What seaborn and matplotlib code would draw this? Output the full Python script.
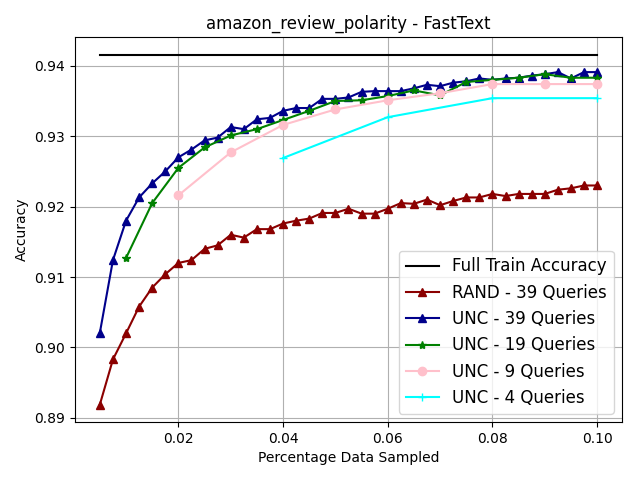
import numpy as np
import pandas as pd
import matplotlib
matplotlib.use("Agg")
import matplotlib.pyplot as plt
import seaborn as sns

# x grids for each query budget
x_39 = [round(0.005 + 0.0025 * i, 4) for i in range(39)]
x_19 = [round(0.01 + 0.005 * i, 4) for i in range(19)]
x_9 = [0.02, 0.03, 0.04, 0.05, 0.06, 0.07, 0.08, 0.09, 0.10]
x_4 = [0.04, 0.06, 0.08, 0.10]

full_train_acc = 0.9416

rand_39 = [0.8919, 0.8983, 0.9020, 0.9058, 0.9085, 0.9104, 0.9120, 0.9124,
           0.9140, 0.9145, 0.9160, 0.9156, 0.9168, 0.9168, 0.9176, 0.9180,
           0.9183, 0.9191, 0.9191, 0.9197, 0.9190, 0.9190, 0.9197, 0.9205,
           0.9204, 0.9210, 0.9202, 0.9208, 0.9213, 0.9213, 0.9218, 0.9215,
           0.9218, 0.9218, 0.9218, 0.9224, 0.9226, 0.9230, 0.9230]

unc_39 = [0.9021, 0.9124, 0.9180, 0.9213, 0.9233, 0.9250, 0.9270, 0.9281,
          0.9294, 0.9298, 0.9313, 0.9310, 0.9324, 0.9326, 0.9336, 0.9340,
          0.9340, 0.9353, 0.9353, 0.9355, 0.9363, 0.9364, 0.9364, 0.9364,
          0.9368, 0.9373, 0.9371, 0.9376, 0.9378, 0.9382, 0.9380, 0.9382,
          0.9383, 0.9386, 0.9388, 0.9391, 0.9382, 0.9391, 0.9391]

unc_19 = [0.9127, 0.9205, 0.9255, 0.9284, 0.9301, 0.9310, 0.9323, 0.9336,
          0.9350, 0.9351, 0.9357, 0.9365, 0.9358, 0.9377, 0.9380, 0.9383,
          0.9388, 0.9383, 0.9383]

unc_9 = [0.9216, 0.9277, 0.9316, 0.9338, 0.9351, 0.9361, 0.9374, 0.9374, 0.9374]

unc_4 = [0.9269, 0.9327, 0.9354, 0.9354]

fig, ax = plt.subplots(figsize=(6.4, 4.8), dpi=100)

sns.lineplot(x=[x_39[0], x_39[-1]], y=[full_train_acc, full_train_acc],
             color="black", label="Full Train Accuracy", ax=ax)

series = [
    (x_39, rand_39, "darkred", "^", "RAND - 39 Queries"),
    (x_39, unc_39, "darkblue", "^", "UNC - 39 Queries"),
    (x_19, unc_19, "green", "*", "UNC - 19 Queries"),
    (x_9, unc_9, "pink", "o", "UNC - 9 Queries"),
    (x_4, unc_4, "cyan", "+", "UNC - 4 Queries"),
]
for xs, ys, col, mk, lab in series:
    sns.lineplot(x=xs, y=ys, color=col, marker=mk, markersize=6,
                 markeredgecolor=col, markerfacecolor=col, markeredgewidth=1,
                 label=lab, ax=ax)

ax.grid(True, color="#b0b0b0", linewidth=0.8)
ax.set_axisbelow(True)
ax.set_title("amazon_review_polarity - FastText", fontsize=12)
ax.set_xlabel("Percentage Data Sampled")
ax.set_ylabel("Accuracy")
ax.set_yticks([0.89, 0.90, 0.91, 0.92, 0.93, 0.94])
ax.set_xticks([0.02, 0.04, 0.06, 0.08, 0.10])
ax.legend(loc="lower right", fontsize=12)

fig.subplots_adjust(left=75 / 640, right=622 / 640, top=1 - 37 / 480, bottom=1 - 422 / 480)
fig.savefig("out.png", dpi=100)
